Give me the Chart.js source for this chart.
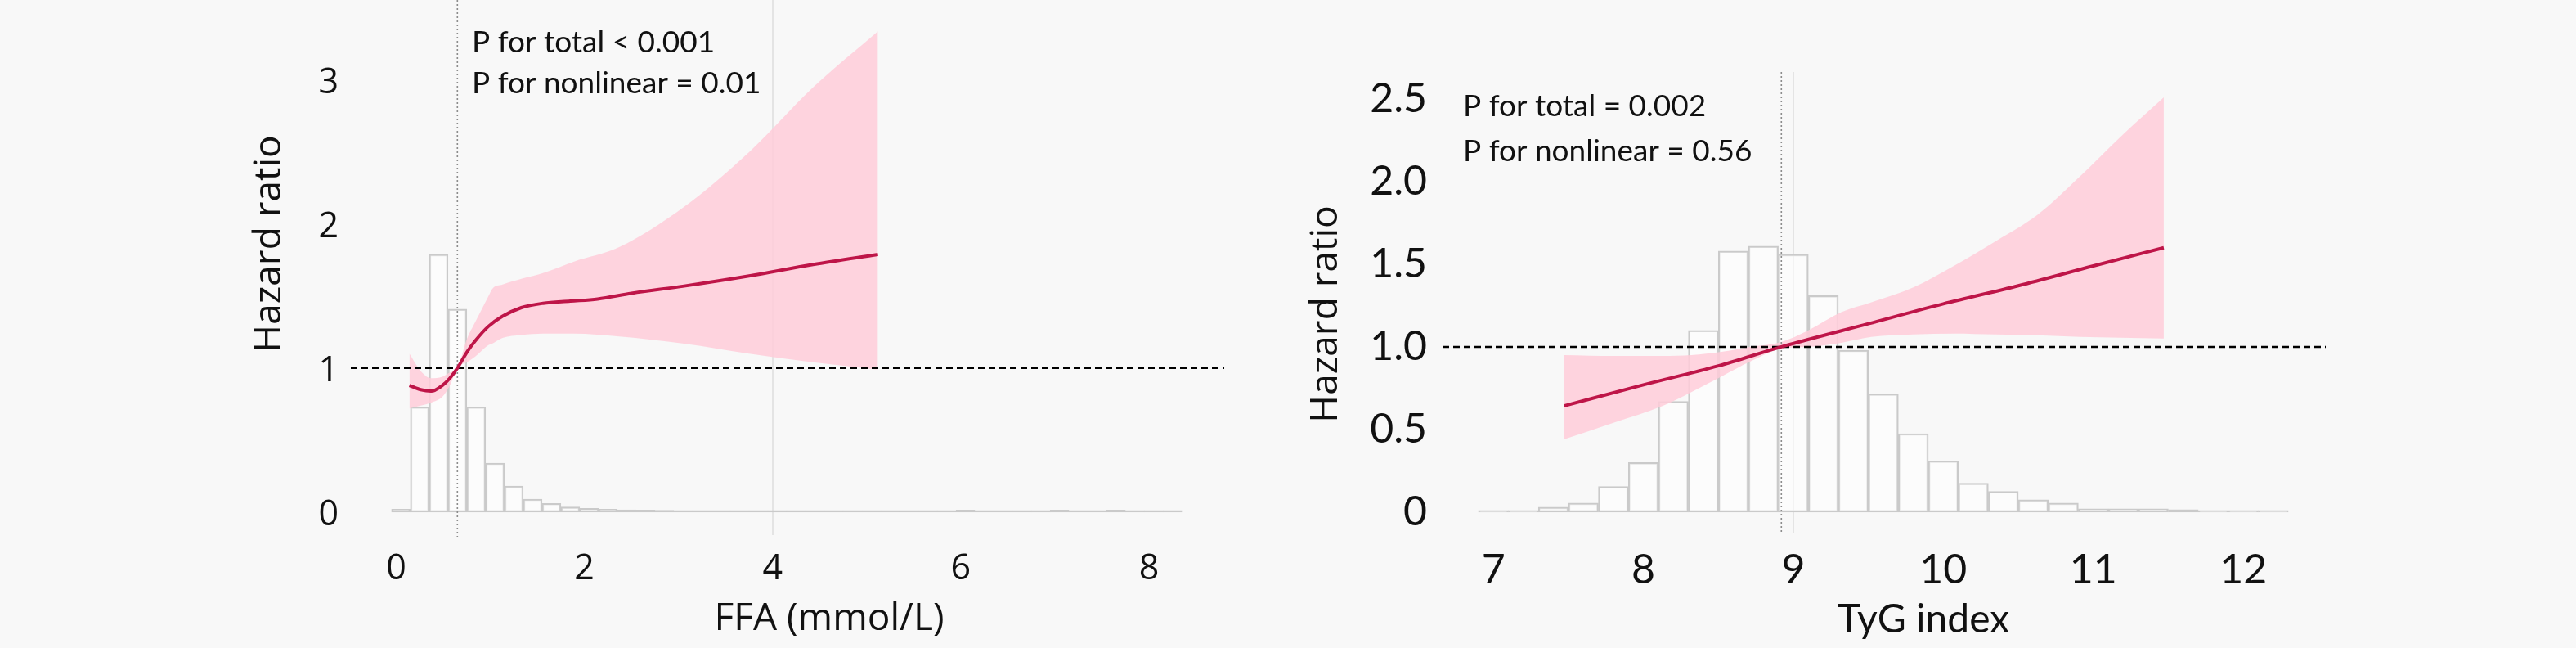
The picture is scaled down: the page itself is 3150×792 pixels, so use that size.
<!DOCTYPE html>
<html>
<head>
<meta charset="utf-8">
<script src="https://cdn.jsdelivr.net/npm/chart.js@4.4.0/dist/chart.umd.min.js"></script>
<style>
  html, body { margin: 0; padding: 0; background: #f8f8f8; }
  .panel { position: absolute; top: 0; width: 1575px; height: 792px; }
</style>
</head>
<body>
<div class="panel" style="left:0"><canvas id="ffa" width="1575" height="792"></canvas></div>
<div class="panel" style="left:1575px"><canvas id="tyg" width="1575" height="792"></canvas></div>
<script>
// ---- FFA panel ----
const ffaBinMid = [0.05, 0.25, 0.45, 0.65, 0.85, 1.05, 1.25, 1.45, 1.65, 1.85, 2.05, 2.25, 2.45, 2.65,
  2.85, 3.05, 3.25, 3.45, 3.65, 3.85, 4.05, 4.25, 4.45, 4.65, 4.85, 5.05, 5.25, 5.45, 5.65, 5.85,
  6.05, 6.25, 6.45, 6.65, 6.85, 7.05, 7.25, 7.45, 7.65, 7.85, 8.05, 8.25];
const ffaBinHeight = [0.02, 0.73, 1.79, 1.41, 0.73, 0.34, 0.18, 0.09, 0.06, 0.035, 0.025, 0.02, 0.016, 0.014,
  0.013, 0.012, 0.012, 0.012, 0.012, 0.012, 0.012, 0.012, 0.012, 0.012, 0.012, 0.012, 0.012, 0.012, 0.012, 0.012,
  0.014, 0.012, 0.012, 0.012, 0.012, 0.014, 0.012, 0.012, 0.014, 0.012, 0.012, 0.012];
const ffaCurveX = [0.14, 0.26, 0.37, 0.49, 0.57, 0.65, 0.75, 0.84, 0.98, 1.13, 1.33, 1.56, 1.85, 2.14, 2.5, 3.06, 3.75, 4.43, 5.12];
const ffaCurveHR = [0.88, 0.85, 0.84, 0.88, 0.93, 1.0, 1.11, 1.19, 1.29, 1.36, 1.42, 1.45, 1.465, 1.48, 1.52, 1.57, 1.64, 1.72, 1.79];
const ffaBandX = [0.14, 0.26, 0.37, 0.49, 0.57, 0.65, 0.75, 0.84, 0.98, 1.02, 1.13, 1.33, 1.56, 1.89, 2.37, 3.06, 3.75, 4.43, 5.12];
const ffaUpper = [1.1, 0.98, 0.93, 0.94, 0.97, 1.0, 1.2, 1.32, 1.5, 1.55, 1.58, 1.62, 1.66, 1.74, 1.84, 2.12, 2.5, 2.95, 3.34];
const ffaLower = [0.72, 0.74, 0.76, 0.8, 0.88, 1.0, 1.04, 1.08, 1.16, 1.17, 1.21, 1.23, 1.24, 1.24, 1.22, 1.17, 1.1, 1.04, 0.99];
const ffaXTicks = [0, 2, 4, 6, 8];
const ffaYTicks = [0, 1, 2, 3];
const ffaYLabels = ['0', '1', '2', '3'];
const ffaRef = 0.65;

// ---- TyG panel ----
const tygBinMid = [7.0, 7.2, 7.4, 7.6, 7.8, 8.0, 8.2, 8.4, 8.6, 8.8, 9.0, 9.2, 9.4, 9.6, 9.8, 10.0,
  10.2, 10.4, 10.6, 10.8, 11.0, 11.2, 11.4, 11.6, 11.8, 12.0, 12.2];
const tygBinHeight = [0.01, 0.01, 0.03, 0.055, 0.155, 0.30, 0.67, 1.10, 1.58, 1.61, 1.56, 1.31, 0.98, 0.715, 0.475, 0.31,
  0.175, 0.125, 0.075, 0.055, 0.02, 0.02, 0.02, 0.015, 0.01, 0.01, 0.01];
const tygCurveX = [7.47, 8.0, 8.5, 8.92, 9.5, 10.0, 10.5, 11.0, 11.47];
const tygCurveHR = [0.643, 0.77, 0.885, 1.0, 1.14, 1.26, 1.37, 1.49, 1.6];
const tygBandX = [7.47, 7.8, 8.13, 8.32, 8.52, 8.71, 8.92, 9.1, 9.32, 9.52, 9.8, 10.07, 10.35, 10.63, 10.91, 11.18, 11.47];
const tygUpper = [0.95, 0.945, 0.945, 0.95, 0.97, 1.0, 1.03, 1.1, 1.21, 1.27, 1.36, 1.49, 1.64, 1.8, 2.03, 2.27, 2.51];
const tygLower = [0.44, 0.54, 0.643, 0.726, 0.82, 0.91, 0.99, 1.0, 1.025, 1.06, 1.075, 1.08, 1.075, 1.07, 1.06, 1.055, 1.05];
const tygXTicks = [7, 8, 9, 10, 11, 12];
const tygYTicks = [0, 0.5, 1, 1.5, 2, 2.5];
const tygYLabels = ['0', '0.5', '1.0', '1.5', '2.0', '2.5'];
const tygRef = 8.92;

const pairs = (xs, ys) => xs.map((x, i) => ({ x: x, y: ys[i] }));

// dotted reference x and dashed HR = 1 line, drawn just before the curve
const refLines = {
  id: 'refLines',
  beforeDatasetDraw(chart, args, opts) {
    if (args.index !== 0) return;
    const { ctx, chartArea: a, scales: { x, y } } = chart;
    ctx.save();
    ctx.strokeStyle = '#8c8c8c';
    ctx.lineWidth = 1.6;
    ctx.setLineDash([2, 3]);
    const px = x.getPixelForValue(opts.refX);
    ctx.beginPath(); ctx.moveTo(px, a.top); ctx.lineTo(px, a.bottom + 2); ctx.stroke();
    ctx.strokeStyle = '#000';
    ctx.lineWidth = 2.4;
    ctx.setLineDash([8, 5]);
    const py = y.getPixelForValue(1);
    ctx.beginPath(); ctx.moveTo(a.left + 2, py); ctx.lineTo(a.right, py); ctx.stroke();
    ctx.restore();
  }
};

// axis titles and p-value notes
const notes = {
  id: 'notes',
  afterDraw(chart, args, opts) {
    const ctx = chart.ctx;
    opts.items.forEach(t => {
      ctx.save();
      ctx.font = t.font;
      ctx.fillStyle = '#111';
      ctx.textAlign = t.align || 'center';
      ctx.textBaseline = 'middle';
      ctx.translate(t.x, t.y);
      if (t.vertical) ctx.rotate(-Math.PI / 2);
      ctx.fillText(t.text, 0, 0);
      ctx.restore();
    });
  }
};

function panel(id, p) {
  return new Chart(document.getElementById(id), {
    type: 'line',
    data: {
      datasets: [
        { data: pairs(p.curveX, p.curveHR), borderColor: '#be1548', borderWidth: 4, pointRadius: 0,
          cubicInterpolationMode: 'monotone', fill: false },
        { data: pairs(p.bandX, p.upper), borderColor: 'transparent', borderWidth: 1, pointRadius: 0,
          cubicInterpolationMode: 'monotone', fill: '+1', backgroundColor: 'rgba(255, 204, 217, 0.85)' },
        { data: pairs(p.bandX, p.lower), borderColor: 'transparent', borderWidth: 1, pointRadius: 0,
          cubicInterpolationMode: 'monotone', fill: false },
        { type: 'bar', data: pairs(p.binMid, p.binHeight), backgroundColor: 'rgba(255, 255, 255, 0.55)',
          borderColor: '#cacaca', borderWidth: 2, borderSkipped: false,
          barPercentage: 1, categoryPercentage: 1 }
      ]
    },
    options: {
      responsive: false,
      animation: false,
      devicePixelRatio: 1,
      layout: { padding: p.padding },
      plugins: {
        legend: { display: false },
        tooltip: { enabled: false },
        refLines: { refX: p.ref },
        notes: { items: p.notes }
      },
      scales: {
        x: {
          type: 'linear', min: p.xMin, max: p.xMax, offset: false,
          afterBuildTicks: s => { s.ticks = p.xTicks.map(v => ({ value: v })); },
          afterFit: s => { s.height = p.xAxisHeight; s.paddingLeft = 0; s.paddingRight = 0; },
          ticks: { font: p.tickFont, color: '#111', padding: p.xTickPad, maxRotation: 0, autoSkip: false },
          grid: { drawTicks: false, lineWidth: 2, offset: false,
            color: c => (c.tick && c.tick.value === p.gridAt) ? '#e4e4e4' : 'rgba(0,0,0,0)' },
          border: { display: false }
        },
        y: {
          type: 'linear', min: p.yMin, max: p.yMax,
          afterBuildTicks: s => { s.ticks = p.yTicks.map(v => ({ value: v })); },
          afterFit: s => { s.width = p.yAxisWidth; s.paddingTop = 0; s.paddingBottom = 0; },
          ticks: { font: p.tickFont, color: '#111', padding: p.yTickPad, labelOffset: p.yLabelShift,
            callback: (v, i) => p.yLabels[i] },
          grid: { display: false, drawTicks: false },
          border: { display: false }
        }
      }
    },
    plugins: [refLines, notes]
  });
}

panel('ffa', {
  binMid: ffaBinMid, binHeight: ffaBinHeight,
  curveX: ffaCurveX, curveHR: ffaCurveHR,
  bandX: ffaBandX, upper: ffaUpper, lower: ffaLower,
  xTicks: ffaXTicks, yTicks: ffaYTicks, yLabels: ffaYLabels,
  ref: ffaRef, gridAt: 4,
  xMin: -0.5, xMax: 8.8, yMin: -0.16, yMax: 3.557,
  padding: { left: 302, right: 78, top: 0, bottom: 0 },
  yAxisWidth: 125, xAxisHeight: 138, xTickPad: 16, yTickPad: 13, yLabelShift: 4,
  tickFont: { family: 'Open Sans', size: 43 },
  notes: [
    { text: 'Hazard ratio', x: 330, y: 298, vertical: true, font: '46px "Open Sans"' },
    { text: 'FFA (mmol/L)', x: 1014, y: 757, font: '46px "Open Sans"' },
    { text: 'P for total < 0.001', x: 577, y: 52, align: 'left', font: '37px Lato' },
    { text: 'P for nonlinear = 0.01', x: 577, y: 102, align: 'left', font: '37px Lato' }
  ]
});

panel('tyg', {
  binMid: tygBinMid, binHeight: tygBinHeight,
  curveX: tygCurveX, curveHR: tygCurveHR,
  bandX: tygBandX, upper: tygUpper, lower: tygLower,
  xTicks: tygXTicks, yTicks: tygYTicks, yLabels: tygYLabels,
  ref: tygRef, gridAt: 9,
  xMin: 6.65, xMax: 12.55, yMin: -0.124, yMax: 2.663,
  padding: { left: 18, right: 306, top: 88, bottom: 0 },
  yAxisWidth: 169, xAxisHeight: 141, xTickPad: 16, yTickPad: 17, yLabelShift: 0,
  tickFont: { family: 'Lato', size: 50 },
  notes: [
    { text: 'Hazard ratio', x: 47, y: 384, vertical: true, font: '46px "Open Sans"' },
    { text: 'TyG index', x: 777, y: 758, font: '48px Lato' },
    { text: 'P for total = 0.002', x: 214, y: 130, align: 'left', font: '37px Lato' },
    { text: 'P for nonlinear = 0.56', x: 214, y: 185, align: 'left', font: '37px Lato' }
  ]
});
</script>
</body>
</html>
